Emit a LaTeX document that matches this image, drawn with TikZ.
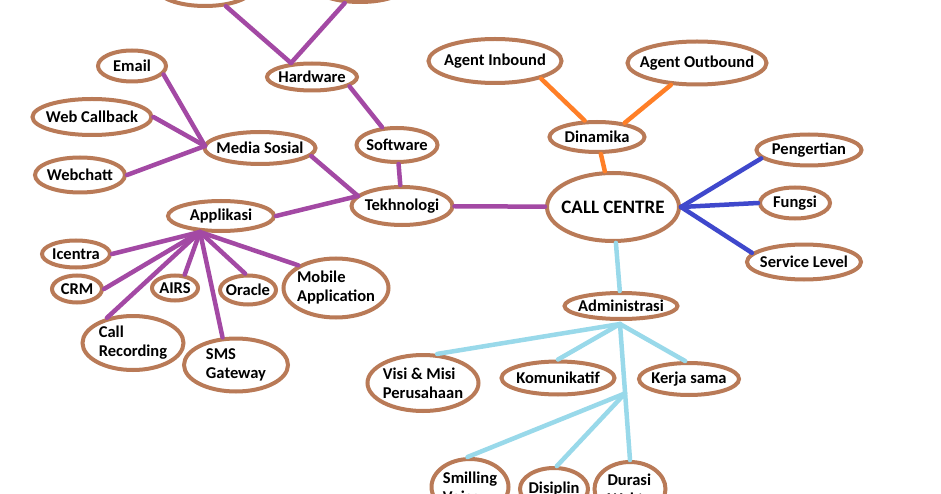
\documentclass[tikz,border=0pt]{standalone}
\usepackage{fontspec}
\setmainfont{Carlito}
\usetikzlibrary{calc,positioning,shapes.geometric}
\definecolor{bubbleline}{HTML}{B97A57}
\definecolor{techline}{HTML}{A349A4}
\definecolor{adminline}{HTML}{99D9EA}
\definecolor{dynline}{HTML}{FF7F27}
\definecolor{infoline}{HTML}{3F48CC}
\begin{document}
\begin{tikzpicture}[x=1pt, y=-1pt,
	Bubble/.style={draw=bubbleline, line width=4pt, ellipse, inner xsep=-10pt, inner ysep=-2pt, align=left, font=\fontsize{16.5}{19}\selectfont\bfseries},
	Twig/.style={line width=4.5pt, line cap=round}]
	\path[use as bounding box, fill=white] (0,0) rectangle (941,494);
	\node[Bubble, minimum width=96pt, minimum height=36pt] (topleft) at (205,-12) {};
	\node[Bubble, minimum width=92pt, minimum height=32pt] (topright) at (360,-14) {};
	\node[Bubble, minimum width=90pt, minimum height=27pt] (hardware) at (312,77) {Hardware};
	\node[Bubble, minimum width=68pt, minimum height=31pt] (email) at (132,66) {Email};
	\node[Bubble, minimum width=119pt, minimum height=36pt] (webcallback) at (92,117) {Web Callback};
	\node[Bubble, minimum width=90pt, minimum height=35pt] (webchatt) at (80,175) {Webchatt};
	\node[Bubble, minimum width=111pt, minimum height=32pt] (mediasosial) at (260,148) {Media Sosial};
	\node[Bubble, minimum width=81pt, minimum height=34pt] (software) at (397,145) {Software};
	\node[Bubble, minimum width=101pt, minimum height=38pt] (tekhnologi) at (402,206) {Tekhnologi};
	\node[Bubble, minimum width=106pt, minimum height=30pt] (applikasi) at (221,216) {Applikasi};
	\node[Bubble, minimum width=68pt, minimum height=27pt] (icentra) at (76,254) {Icentra};
	\node[Bubble, minimum width=50pt, minimum height=27pt] (crm) at (77,289) {CRM};
	\node[Bubble, minimum width=46pt, minimum height=25pt] (airs) at (175,288) {AIRS};
	\node[Bubble, minimum width=56pt, minimum height=29pt] (oracle) at (248,290) {Oracle};
	\node[Bubble, minimum width=105pt, minimum height=59pt] (mobile) at (336,288) {Mobile\\Application};
	\node[Bubble, minimum width=101pt, minimum height=54pt] (callrec) at (133,343) {Call\\Recording};
	\node[Bubble, minimum width=104pt, minimum height=53pt] (sms) at (236,365) {SMS\\Gateway};
	\node[Bubble, minimum width=132pt, minimum height=68pt, font=\fontsize{19}{22}\selectfont\bfseries] (callcentre) at (613,207) {CALL CENTRE};
	\node[Bubble, minimum width=133pt, minimum height=44pt] (inbound) at (495,61) {Agent Inbound};
	\node[Bubble, minimum width=139pt, minimum height=43pt] (outbound) at (697,63) {Agent Outbound};
	\node[Bubble, minimum width=95pt, minimum height=30pt] (dinamika) at (597,137) {Dinamika};
	\node[Bubble, minimum width=105pt, minimum height=31pt] (pengertian) at (809,150) {Pengertian};
	\node[Bubble, minimum width=70pt, minimum height=31pt] (fungsi) at (795,203) {Fungsi};
	\node[Bubble, minimum width=114pt, minimum height=35pt] (servicelevel) at (804,262) {Service Level};
	\node[Bubble, minimum width=113pt, minimum height=26pt] (administrasi) at (621,306) {Administrasi};
	\node[Bubble, minimum width=111pt, minimum height=56pt] (visimisi) at (423,383) {Visi \& Misi\\Perusahaan};
	\node[Bubble, minimum width=113pt, minimum height=33pt] (komunikatif) at (558,378) {Komunikatif};
	\node[Bubble, minimum width=100pt, minimum height=32pt] (kerjasama) at (689,379) {Kerja sama};
	\node[Bubble, minimum width=77pt, minimum height=56pt] (smilling) at (470,487) {Smilling\\Voice};
	\node[Bubble, minimum width=68pt, minimum height=42pt] (disiplin) at (554,489) {Disiplin};
	\node[Bubble, minimum width=71pt, minimum height=54pt] (durasi) at (630,489) {Durasi\\Waktu};
	\coordinate (hwtop) at (291,63);
	\coordinate (mshub) at (205,146);
	\coordinate (tekhub) at (358,196);
	\coordinate (apphub) at (200,232);
	\coordinate (admhub) at (620,324);
	\coordinate (subhub) at ($(admhub)!0.51!(durasi.north)$);
	\draw[Twig, techline] (hwtop) -- (topleft);
	\draw[Twig, techline] (hwtop) -- (topright);
	\draw[Twig, techline] (hardware.-14) -- (software.130);
	\draw[Twig, techline] (software) -- (tekhnologi);
	\draw[Twig, techline] (email.-15) -- (mshub);
	\draw[Twig, techline] (webcallback.east) -- (mshub);
	\draw[Twig, techline] (webchatt.east) -- (mshub);
	\draw[Twig, techline] (mediasosial.-9) -- (tekhub);
	\draw[Twig, techline] (applikasi.east) -- (tekhub);
	\draw[Twig, techline] (tekhnologi) -- (callcentre);
	\draw[Twig, techline] (icentra.east) -- (apphub);
	\draw[Twig, techline] (crm.east) -- (apphub);
	\draw[Twig, techline] (callrec.136) -- (apphub);
	\draw[Twig, techline] (airs.54) -- (apphub);
	\draw[Twig, techline] (sms.116) -- (apphub);
	\draw[Twig, techline] (oracle.100) -- (apphub);
	\draw[Twig, techline] (mobile.149) -- (apphub);
	\draw[Twig, dynline] (inbound.-21) -- (dinamika.127);
	\draw[Twig, dynline] (outbound.220) -- (dinamika.27);
	\draw[Twig, dynline] (dinamika) -- (callcentre);
	\draw[Twig, infoline] (callcentre.east) -- (pengertian.190);
	\draw[Twig, infoline] (callcentre.east) -- (fungsi.west);
	\draw[Twig, infoline] (callcentre.east) -- (servicelevel.170);
	\draw[Twig, adminline] (callcentre) -- (administrasi);
	\draw[Twig, adminline] (admhub) -- (visimisi.64);
	\draw[Twig, adminline] (admhub) -- (komunikatif.north);
	\draw[Twig, adminline] (admhub) -- (kerjasama.102);
	\draw[Twig, adminline] (admhub) -- (durasi.north);
	\draw[Twig, adminline] (subhub) -- (smilling.95);
	\draw[Twig, adminline] (subhub) -- (disiplin.83);
\end{tikzpicture}
\end{document}
